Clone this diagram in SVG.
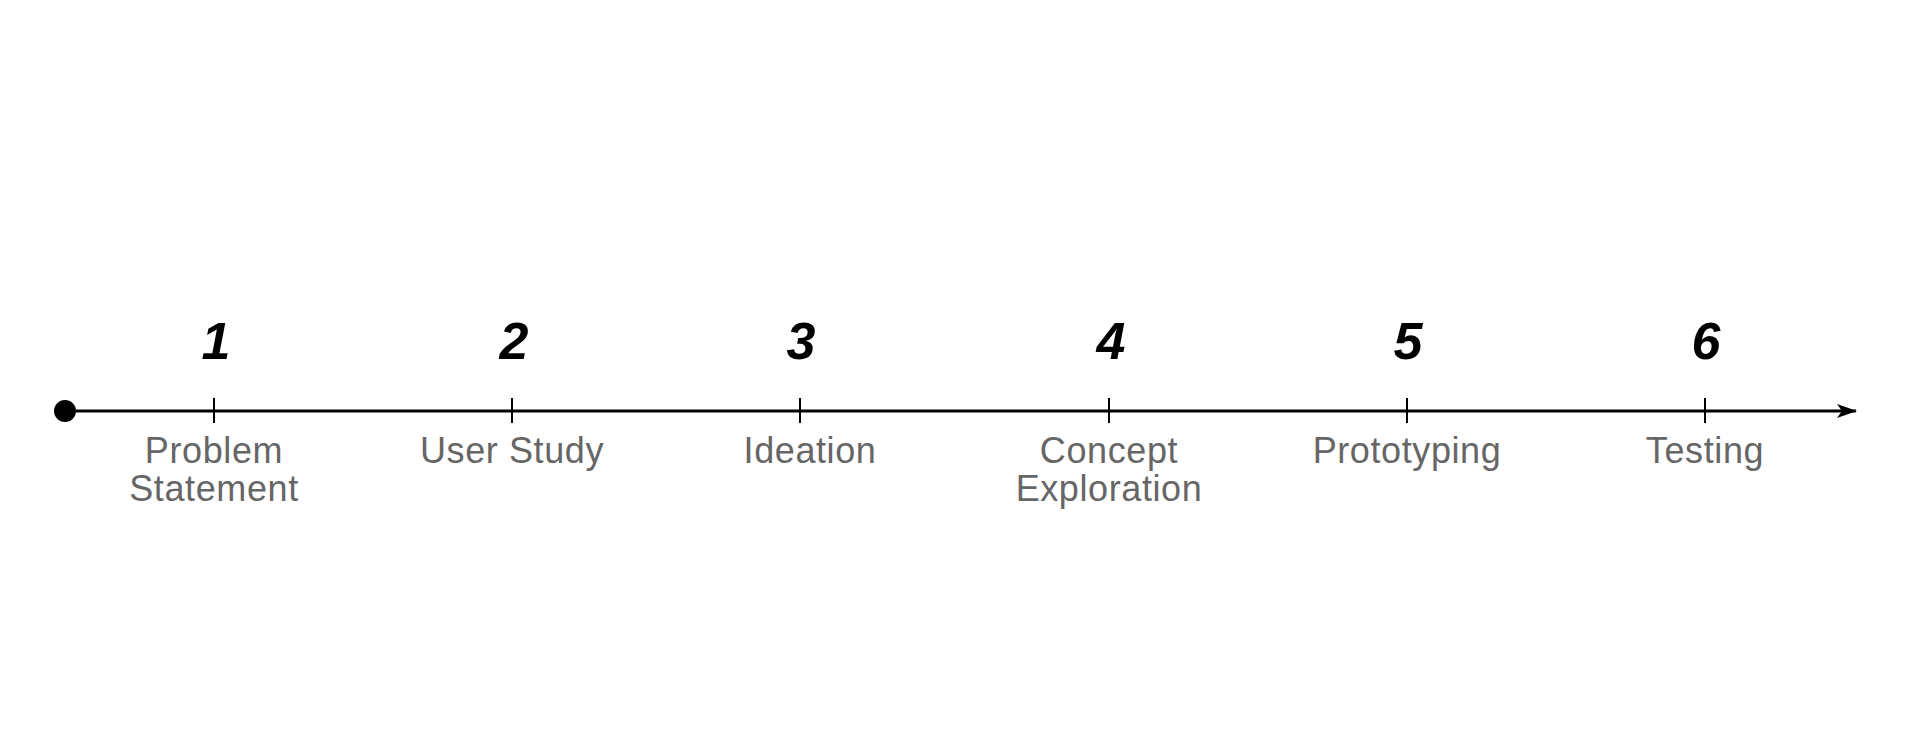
<svg xmlns="http://www.w3.org/2000/svg" width="1920" height="755" viewBox="0 0 1920 755">
<style>
.num{font-family:"Liberation Sans",Arial,sans-serif;font-weight:bold;font-style:italic;font-size:52px;fill:#000;text-anchor:middle}
.lbl{font-family:"Liberation Sans",Arial,sans-serif;font-size:36px;letter-spacing:0.6px;fill:#666;text-anchor:middle}
.tick{stroke:#000;stroke-width:2}
</style>
<defs>
<marker id="arr" viewBox="0 0 20 14" refX="19" refY="7" markerWidth="20" markerHeight="14" markerUnits="userSpaceOnUse" orient="auto">
<path d="M0,0 L20,7 L0,14 L5,7 Z" fill="#000"/>
</marker>
</defs>
<rect width="1920" height="755" fill="#fff"/>
<g id="connectors">
<line x1="65" y1="411" x2="1856" y2="411" stroke="#000" stroke-width="3" marker-end="url(#arr)"/>
<circle cx="65" cy="411" r="11" fill="#000"/>
</g>
<g id="step1"><line class="tick" x1="214" y1="398" x2="214" y2="423"/><text class="num" x="216" y="359">1</text><text class="lbl" x="214" y="463">Problem</text><text class="lbl" x="214" y="501">Statement</text></g>
<g id="step2"><line class="tick" x1="512" y1="398" x2="512" y2="423"/><text class="num" x="514" y="359">2</text><text class="lbl" x="512" y="463">User Study</text></g>
<g id="step3"><line class="tick" x1="800" y1="398" x2="800" y2="423"/><text class="num" x="801" y="359">3</text><text class="lbl" x="810" y="463">Ideation</text></g>
<g id="step4"><line class="tick" x1="1109" y1="398" x2="1109" y2="423"/><text class="num" x="1111" y="359">4</text><text class="lbl" x="1109" y="463">Concept</text><text class="lbl" x="1109" y="501">Exploration</text></g>
<g id="step5"><line class="tick" x1="1407" y1="398" x2="1407" y2="423"/><text class="num" x="1408" y="359">5</text><text class="lbl" x="1407" y="463">Prototyping</text></g>
<g id="step6"><line class="tick" x1="1705" y1="398" x2="1705" y2="423"/><text class="num" x="1706" y="359">6</text><text class="lbl" x="1705" y="463">Testing</text></g>
</svg>
